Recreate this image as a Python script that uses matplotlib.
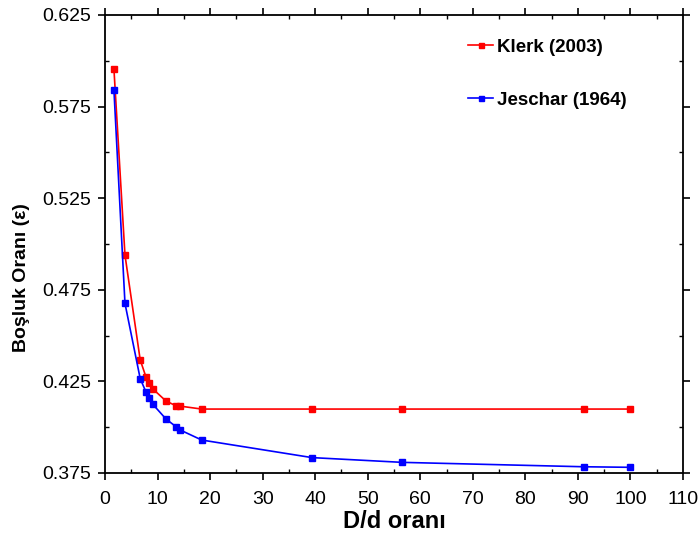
import numpy as np
import matplotlib
matplotlib.use('Agg')
import matplotlib.pyplot as plt
from matplotlib.ticker import MultipleLocator, FormatStrFormatter

plt.rcParams['font.family'] = ['Liberation Sans', 'DejaVu Sans']

# D/d oranı
dd = [1.7, 3.8, 6.7, 7.8, 8.4, 9.1, 11.6, 13.5, 14.3, 18.4, 39.4, 56.6, 91.2, 100.0]
# Boşluk oranı
klerk = [0.5955, 0.494, 0.4367, 0.4274, 0.4241, 0.4209, 0.4143, 0.4117, 0.4115,
         0.4099, 0.4099, 0.4099, 0.4099, 0.4099]
jeschar = [0.584, 0.4676, 0.4265, 0.4192, 0.4161, 0.4125, 0.4045, 0.4003, 0.3985,
           0.3930, 0.3834, 0.3808, 0.3784, 0.3781]
yticks = [0.375, 0.425, 0.475, 0.525, 0.575, 0.625]
yminor = [0.400, 0.450, 0.500, 0.550, 0.600]

fig = plt.figure(figsize=(7.0, 5.41), dpi=100)
ax = fig.add_axes([0.15, 0.1257, 0.8257, 0.8466])

ax.plot(dd, klerk, color='#ff0000', lw=1.2, marker='s', ms=4.5, label='Klerk (2003)')
ax.plot(dd, jeschar, color='#0000ff', lw=1.2, marker='s', ms=4.5, label='Jeschar (1964)')

ax.set_xlim(0, 110)
ax.set_ylim(0.375, 0.625)
ax.xaxis.set_major_locator(MultipleLocator(10))
ax.xaxis.set_minor_locator(MultipleLocator(5))
ax.set_yticks(yticks)
ax.set_yticks(yminor, minor=True)
ax.yaxis.set_major_formatter(FormatStrFormatter('%.3f'))

for s in ax.spines.values():
    s.set_linewidth(1.3)
ax.tick_params(which='major', direction='out', length=5, width=1.2, labelsize=14)
ax.tick_params(axis='x', which='major', pad=8)
ax.tick_params(axis='y', which='major', pad=5)
ax.tick_params(which='minor', direction='in', length=3, width=1.0)
ax.tick_params(which='both', top=True, right=True)

ax.set_xlabel('D/d oranı', fontsize=17, fontweight='bold')
ax.set_ylabel('Boşluk Oranı (ε)', fontsize=14, fontweight='bold')
ax.xaxis.set_label_coords(0.5, -0.105)
ax.yaxis.set_label_coords(-0.144, 0.426)
ax.xaxis.label.set_va('center')
ax.yaxis.label.set_va('center')

ax.legend(loc='upper left', bbox_to_anchor=(0.628, 0.948), frameon=False,
          prop={'weight': 'bold', 'size': 13.5}, handlelength=1.35, handletextpad=0.2,
          labelspacing=1.9, borderpad=0, borderaxespad=0, markerscale=0.8)

fig.savefig('out.png', dpi=100)
